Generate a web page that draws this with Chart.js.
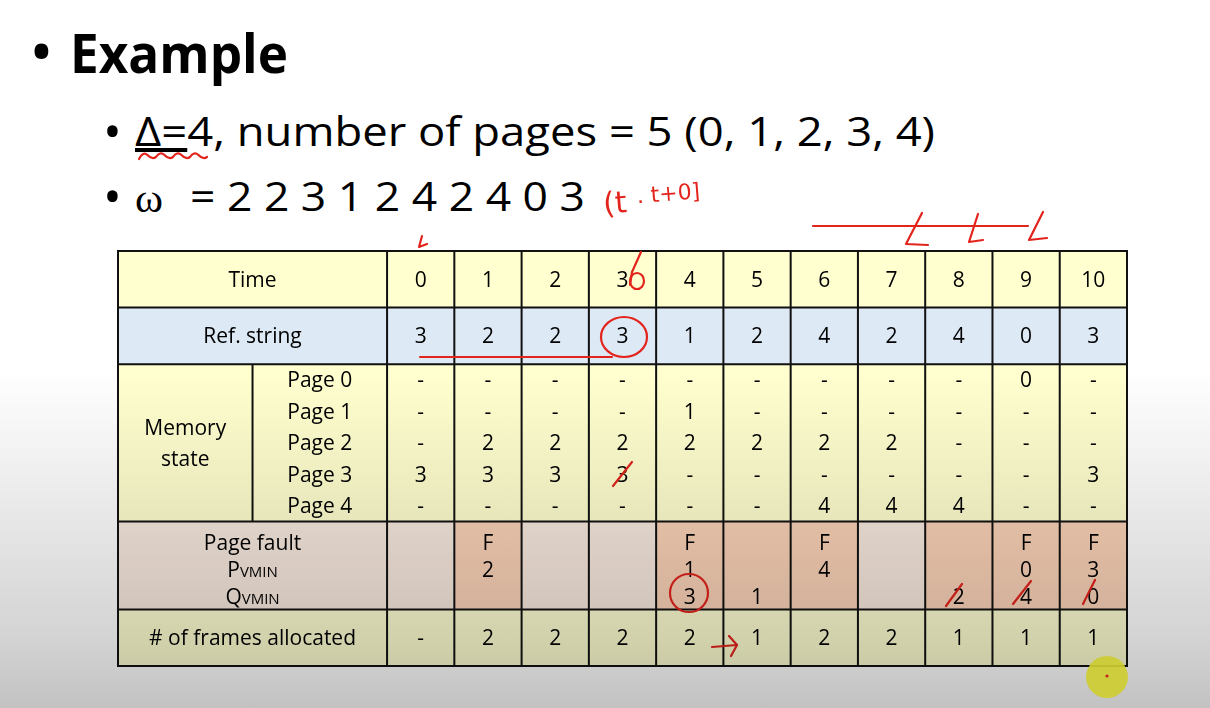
<!DOCTYPE html>
<html>
<head>
<meta charset="utf-8">
<script src="https://cdn.jsdelivr.net/npm/chart.js@4/dist/chart.umd.min.js"></script>
<style>
html, body { margin: 0; padding: 0; width: 1210px; height: 708px; overflow: hidden; background: #fff; }
.t { position: absolute; white-space: nowrap; line-height: 1; color: #000; transform-origin: 0 0;
     font-family: "Open Sans", "Noto Sans", sans-serif; }
canvas { position: absolute; left: 0; top: 0; }
#shade { position: absolute; left: 0; top: 0; width: 1210px; height: 708px; pointer-events: none;
         mix-blend-mode: multiply;
         background: linear-gradient(to bottom, #fff 0px, #fff 370px, #efefef 470px, #e0e0e0 560px, #d3d3d3 640px, #c2c2c2 708px); }
</style>
</head>
<body>
<div class="t" style="left:29px;top:16px;font-size:66px">•</div>
<div class="t" data-w="218" style="left:70px;top:26px;font-size:53px;font-weight:bold">Example</div>

<div class="t" style="left:103px;top:105px;font-size:50px">•</div>
<div class="t" data-w="800" style="left:135px;top:111px;font-size:40px"><span style="text-decoration:underline">Δ=</span>4, number of pages = 5 (0, 1, 2, 3, 4)</div>

<div class="t" style="left:103px;top:170px;font-size:50px">•</div>
<div class="t" data-w="28" style="left:135px;top:179px;font-size:40px;font-family:'Liberation Serif',serif">ω</div>
<div class="t" id="omega" data-w="395" style="left:190px;top:176px;font-size:40px"></div>

<canvas id="table" width="1210" height="708"></canvas>
<canvas id="ink" width="1210" height="708"></canvas>
<div id="shade"></div>
<canvas id="cursor" width="1210" height="708"></canvas>

<script>
// table data
const times = [0, 1, 2, 3, 4, 5, 6, 7, 8, 9, 10];
const refString = [3, 2, 2, 3, 1, 2, 4, 2, 4, 0, 3];
const pageLabels = ['Page 0', 'Page 1', 'Page 2', 'Page 3', 'Page 4'];
const page0 = ['-', '-', '-', '-', '-', '-', '-', '-', '-', '0', '-'];
const page1 = ['-', '-', '-', '-', '1', '-', '-', '-', '-', '-', '-'];
const page2 = ['-', '2', '2', '2', '2', '2', '2', '2', '-', '-', '-'];
const page3 = ['3', '3', '3', '3', '-', '-', '-', '-', '-', '-', '3'];
const page4 = ['-', '-', '-', '-', '-', '-', '4', '4', '4', '-', '-'];
const pageFault = ['', 'F', '', '', 'F', '', 'F', '', '', 'F', 'F'];
const pVmin = ['', '2', '', '', '1', '', '4', '', '', '0', '3'];
const qVmin = ['', '', '', '', '3', '1', '', '', '2', '4', '0'];
const framesAllocated = ['-', '2', '2', '2', '2', '1', '2', '2', '1', '1', '1'];

const memoryState = [page0, page1, page2, page3, page4];

// the reference string omega = everything after time 0
document.getElementById('omega').textContent = '= ' + refString.slice(1).join(' ');

document.querySelectorAll('[data-w]').forEach(function(el){
    const w = el.getBoundingClientRect().width;
    el.style.transform = 'scaleX(' + (el.dataset.w / w) + ')';
});

// layout in scale units: label column is x -4..0, time t is x t..t+1
const labelLeft = -4, labelSplit = -2, tableRight = times.length;
const rowEdges = [0, 1.8, 3.6, 8.6, 11.4, 13.2];

const FONT = '"Open Sans", "Noto Sans", sans-serif';
const YELLOW = '#ffffcf';
const BLUE = '#dde9f5';
const ROSE = '#f8e9de';
const SALMON = '#fbd2b7';
const KHAKI = '#fdfdd0';

const tablePlugin = {
    id: 'vminTable',
    afterDraw(chart){
        const ctx = chart.ctx;
        const px = v => chart.scales.x.getPixelForValue(v);
        const py = v => chart.scales.y.getPixelForValue(v);

        function box(x0, x1, y0, y1, color){
            ctx.fillStyle = color;
            ctx.fillRect(px(x0), py(y0), px(x1) - px(x0), py(y1) - py(y0));
        }
        function text(str, x, y, size){
            ctx.font = size + 'px ' + FONT;
            ctx.textAlign = 'center';
            ctx.textBaseline = 'alphabetic';
            ctx.fillText(str, px(x), py(y) + size * 0.36);
        }
        // big letter followed by small caps, e.g. P + VMIN
        function subText(big, small, x, y){
            ctx.textBaseline = 'alphabetic';
            ctx.textAlign = 'left';
            ctx.font = '21px ' + FONT;
            const wb = ctx.measureText(big).width;
            ctx.font = '15px ' + FONT;
            const ws = ctx.measureText(small).width;
            const left = px(x) - (wb + ws) / 2;
            const base = py(y) + 21 * 0.36;
            ctx.font = '21px ' + FONT;
            ctx.fillText(big, left, base);
            ctx.font = '15px ' + FONT;
            ctx.fillText(small, left + wb, base);
        }

        ctx.save();
        // row fills
        box(labelLeft, tableRight, rowEdges[0], rowEdges[1], YELLOW);
        box(labelLeft, tableRight, rowEdges[1], rowEdges[2], BLUE);
        box(labelLeft, tableRight, rowEdges[2], rowEdges[3], YELLOW);
        box(labelLeft, 0, rowEdges[3], rowEdges[4], ROSE);
        times.forEach(function(t){
            const hit = pageFault[t] !== '' || qVmin[t] !== '';
            box(t, t + 1, rowEdges[3], rowEdges[4], hit ? SALMON : ROSE);
        });
        box(labelLeft, tableRight, rowEdges[4], rowEdges[5], KHAKI);

        // texts
        ctx.fillStyle = '#000';
        const mid = (a, b) => (a + b) / 2;
        text('Time', mid(labelLeft, 0), mid(rowEdges[0], rowEdges[1]), 21);
        text('Ref. string', mid(labelLeft, 0), mid(rowEdges[1], rowEdges[2]), 21);
        const memMid = mid(rowEdges[2], rowEdges[3]);
        text('Memory', mid(labelLeft, labelSplit), memMid - 0.5, 21);
        text('state', mid(labelLeft, labelSplit), memMid + 0.5, 21);
        pageLabels.forEach(function(lbl, k){
            text(lbl, mid(labelSplit, 0), rowEdges[2] + 0.5 + k, 21);
        });
        const pfLine = k => rowEdges[3] + 0.66 + 0.87 * k;
        text('Page fault', mid(labelLeft, 0), pfLine(0), 21);
        subText('P', 'VMIN', mid(labelLeft, 0), pfLine(1));
        subText('Q', 'VMIN', mid(labelLeft, 0), pfLine(2));
        text('# of frames allocated', mid(labelLeft, 0), mid(rowEdges[4], rowEdges[5]), 21);

        times.forEach(function(t){
            const c = t + 0.5;
            text(String(t), c, mid(rowEdges[0], rowEdges[1]), 21);
            text(String(refString[t]), c, mid(rowEdges[1], rowEdges[2]), 21);
            memoryState.forEach(function(row, k){
                text(row[t], c, rowEdges[2] + 0.5 + k, 21);
            });
            text(pageFault[t], c, pfLine(0), 21);
            text(pVmin[t], c, pfLine(1), 21);
            text(qVmin[t], c, pfLine(2), 21);
            text(framesAllocated[t], c, mid(rowEdges[4], rowEdges[5]), 21);
        });

        // grid lines
        ctx.strokeStyle = '#111';
        ctx.lineWidth = 2;
        ctx.beginPath();
        rowEdges.forEach(function(y){
            ctx.moveTo(px(labelLeft) - 1, py(y));
            ctx.lineTo(px(tableRight) + 1, py(y));
        });
        ctx.moveTo(px(labelLeft), py(rowEdges[0]));
        ctx.lineTo(px(labelLeft), py(rowEdges[5]));
        for (let x = 0; x <= tableRight; x++){
            ctx.moveTo(px(x), py(rowEdges[0]));
            ctx.lineTo(px(x), py(rowEdges[5]));
        }
        ctx.moveTo(px(labelSplit), py(rowEdges[2]));
        ctx.lineTo(px(labelSplit), py(rowEdges[3]));
        ctx.stroke();
        ctx.restore();
    }
};

new Chart(document.getElementById('table'), {
    type: 'scatter',
    data: { datasets: [] },
    options: {
        responsive: false,
        animation: false,
        devicePixelRatio: 1,
        layout: { padding: { left: 118, top: 251, right: 83, bottom: 42 } },
        scales: {
            x: { type: 'linear', min: labelLeft, max: tableRight, display: false },
            y: { type: 'linear', min: rowEdges[0], max: rowEdges[rowEdges.length - 1], reverse: true, display: false }
        },
        plugins: { legend: { display: false }, tooltip: { enabled: false } }
    },
    plugins: [tablePlugin]
});

// red pen marks from the lecture video
const ink = document.getElementById('ink').getContext('2d');
ink.strokeStyle = '#e3241d';
ink.fillStyle = '#e3241d';
ink.lineWidth = 2.2;
ink.lineCap = 'round';
ink.lineJoin = 'round';
function pen(points){
    ink.beginPath();
    ink.moveTo(points[0][0], points[0][1]);
    for (let i = 1; i < points.length; i++) ink.lineTo(points[i][0], points[i][1]);
    ink.stroke();
}
// wavy underline under delta
ink.beginPath();
ink.moveTo(139, 159);
for (let i = 0; i < 4; i++){
    const x = 139 + i * 17;
    ink.quadraticCurveTo(x + 4, 151, x + 8.5, 155);
    ink.quadraticCurveTo(x + 13, 160, x + 17, 157);
}
ink.stroke();
// (t, t+0]
ink.save();
ink.font = '30px "DejaVu Sans"';
ink.translate(604, 214);
ink.rotate(-0.08);
ink.fillText('(t', 0, 0);
ink.font = '22px "DejaVu Sans"';
ink.fillText('. t+0]', 34, -8);
ink.restore();
// line with ticks above the table
pen([[813, 226], [1028, 226]]);
pen([[922, 213], [906, 244], [928, 245]]);
pen([[978, 214], [969, 242], [983, 240]]);
pen([[1043, 212], [1029, 240], [1047, 238]]);
pen([[422, 236], [419, 247], [427, 244]]);
// scribble on time 3
pen([[641, 252], [632, 272], [630, 285]]);
ink.beginPath();
ink.ellipse(637, 281, 7, 8, 0, 0, Math.PI * 2);
ink.stroke();
// underline and circle on ref string
pen([[420, 357], [612, 357]]);
ink.beginPath();
ink.ellipse(624, 337, 23, 20, 0, 0, Math.PI * 2);
ink.stroke();
pen([[613, 486], [632, 462]]);
// Q circle and strike marks
ink.beginPath();
ink.arc(689, 593, 19, 0, Math.PI * 2);
ink.stroke();
pen([[946, 606], [962, 584]]);
pen([[1013, 604], [1031, 581]]);
pen([[1083, 604], [1095, 580]]);
// arrow in frames row
pen([[712, 647], [737, 645]]);
pen([[729, 636], [737, 645], [731, 656]]);

// presenter cursor
const cur = document.getElementById('cursor').getContext('2d');
cur.fillStyle = 'rgba(205, 205, 50, 0.92)';
cur.beginPath();
cur.arc(1107, 677, 21, 0, Math.PI * 2);
cur.fill();
cur.fillStyle = '#c8201c';
cur.beginPath();
cur.arc(1107, 676, 1.6, 0, Math.PI * 2);
cur.fill();
</script>
</body>
</html>
